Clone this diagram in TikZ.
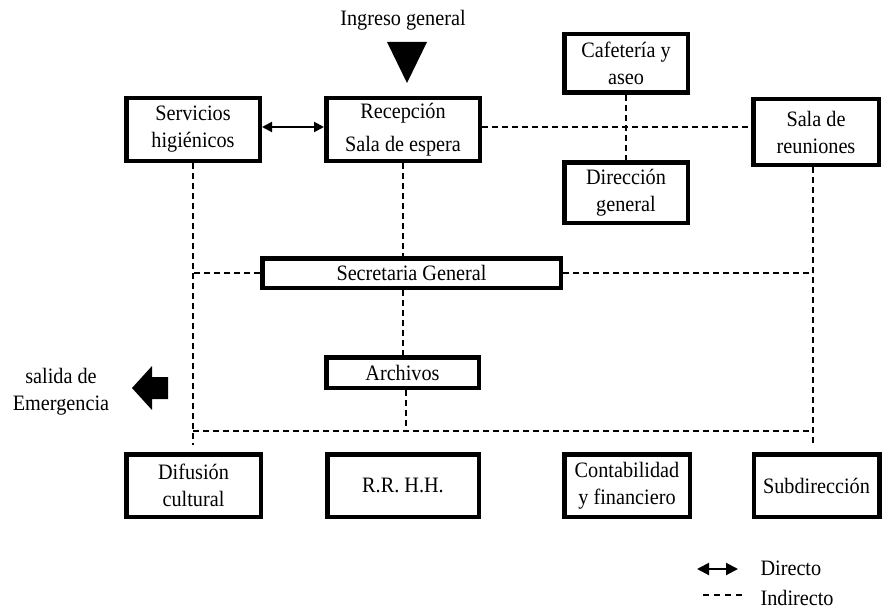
\documentclass[tikz,border=0pt]{standalone}
\usepackage{fontspec}
\setmainfont[FakeStretch=0.92]{Liberation Serif}
\usetikzlibrary{arrows.meta}

\begin{document}
\begin{tikzpicture}[x=1pt,y=-1pt,
  font=\fontsize{22}{27}\selectfont,
  caja/.style={draw,line width=4.5pt,inner sep=0pt,align=center},
  indirecto/.style={dashed,dash pattern=on 6pt off 4pt,line width=1.4pt},
  directo/.style={line width=2pt,{Triangle[length=10pt,width=10pt]}-{Triangle[length=10pt,width=10pt]}}]

\useasboundingbox (0,0) rectangle (882,615);

% --- fila superior ---
\node[caja,minimum width=133.5,minimum height=62.5] (srv) at (193,129.5) {Servicios\\higiénicos};
\node[caja,minimum width=153.5,minimum height=62.5] (rec) at (403,129.5) {Recepción\\[6pt]Sala de espera};
\node[caja,minimum width=123.5,minimum height=58.5] (caf) at (626,63.5) {Cafetería y\\aseo};
\node[caja,minimum width=123.5,minimum height=60.5] (dir) at (626,192.5) {Dirección\\general};
\node[caja,minimum width=125.5,minimum height=65.5] (sal) at (816,132) {Sala de\\reuniones};

% ingreso general
\node (ing) at (403,20) {Ingreso general};
\fill (387,42) -- (427,42) -- (407,83) -- cycle;

% --- centro ---
\node[caja,minimum width=298.5,minimum height=29.5] (sec) at (411.5,273) {Secretaria General};
\node[caja,minimum width=152.5,minimum height=30.5] (arc) at (402.5,372.5) {Archivos};

% salida de emergencia
\node[align=center] (eme) at (61,392) {salida de\\Emergencia};
\fill (132,388) -- (152,366) -- (152,377) -- (168,377) -- (168,399) -- (152,399) -- (152,410) -- cycle;

% --- fila inferior ---
\node[caja,minimum width=134.5,minimum height=62.5] (dif) at (193.5,485.5) {Difusión\\cultural};
\node[caja,minimum width=151.5,minimum height=62.5] (rrh) at (403,485.5) {R.R. H.H.};
\node[caja,minimum width=125.5,minimum height=62.5] (con) at (627,485.5) {Contabilidad\\y financiero};
\node[caja,minimum width=125.5,minimum height=62.5] (sub) at (816.5,485.5) {Subdirección};

% puntos de las lineas
\coordinate (bl) at (193,431);
\coordinate (br) at (813,431);
\coordinate (lend) at (193,445);
\coordinate (rend) at (813,445);
\coordinate (r1) at ([yshift=2.5pt]rec.east);
\coordinate (a1) at ([xshift=3.5pt]arc.south);

% relaciones
\draw[directo] ([yshift=2.5pt]srv.east) -- ([yshift=2.5pt]rec.west);
\draw[indirecto] (r1) -- (r1 -| sal.west);
\draw[indirecto] (caf.south) -- (dir.north);
\draw[indirecto] (srv.south) -- (lend);
\draw[indirecto] (rend |- sal.south) -- (rend);
\draw[indirecto] (rec.south) -- (rec.south |- sec.north);
\draw[indirecto] (rec.south |- sec.south) -- (rec.south |- arc.north);
\draw[indirecto] (sec.west) -- (sec.west -| bl);
\draw[indirecto] (sec.east) -- (sec.east -| br);
\draw[indirecto] (a1) -- (a1 |- bl);
\draw[indirecto] (bl) -- (br);

% --- leyenda ---
\node[anchor=west] (ldir) at (757,568) {Directo};
\node[anchor=west] (lind) at (757,598) {Indirecto};
\coordinate (d1) at (697,569);
\coordinate (d2) at (738,569);
\coordinate (i1) at (703,595);
\coordinate (i2) at (743,595);
\draw[line width=2pt,{Triangle[length=12pt,width=12pt]}-{Triangle[length=12pt,width=12pt]}] (d1) -- (d2);
\draw[indirecto,dash pattern=on 6pt off 5pt] (i1) -- (i2);

\end{tikzpicture}
\end{document}
